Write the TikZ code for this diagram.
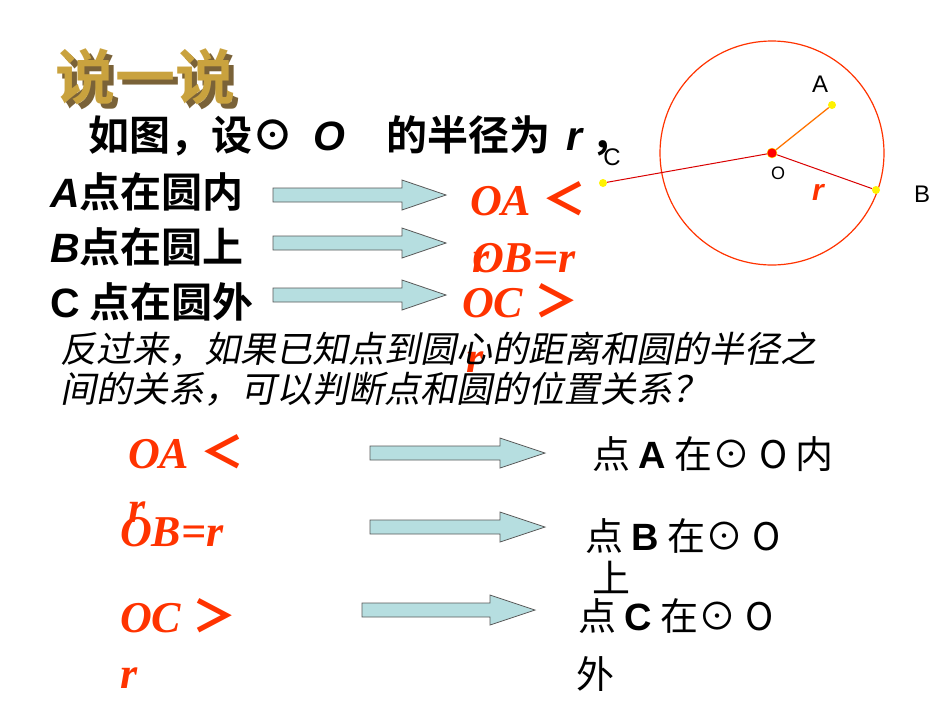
\documentclass[tikz,border=0pt]{standalone}
\usepackage{fontspec}
\setmainfont{Liberation Sans}
\newfontfamily\cjk{Noto Sans CJK SC}[BoldFont={Noto Sans CJK SC Bold}]
\newfontfamily\cjkit{Noto Sans CJK SC}[FakeSlant=0.2]
\newfontfamily\rser{Liberation Serif}
\newfontfamily\lsans{Liberation Sans}
\newcommand\lt{{\cjk ＜}}
\newcommand\gt{{\cjk ＞}}
\newcommand\ilet[1]{{\lsans\bfseries\itshape #1}}
\definecolor{redo}{HTML}{FF3300}
\definecolor{arrfill}{HTML}{B6DEE0}
\definecolor{gold}{HTML}{C9A23E}
\definecolor{goldsh}{HTML}{7A6238}
\begin{document}
\begin{tikzpicture}[x=1pt,y=-1pt,
  txt/.style={anchor=base west,inner sep=0pt,font=\fontsize{41}{41}\selectfont\cjk\bfseries},
  ptxt/.style={anchor=base west,inner sep=0pt,font=\fontsize{38}{38}\selectfont\cjk},
  rtxt/.style={anchor=base west,inner sep=0pt,text=redo,font=\fontsize{44}{44}\selectfont\rser\bfseries\itshape},
  itxt/.style={anchor=base west,inner sep=0pt,font=\fontsize{36}{36}\selectfont\cjkit},
  lbl/.style={inner sep=0pt,font=\fontsize{24}{24}\selectfont},
  dot/.style={circle,fill=yellow,inner sep=0pt,minimum size=8pt},
  barrow/.style={draw=black!65,fill=arrfill,line width=0.8pt}]
\useasboundingbox (0,0) rectangle (950,713);
% heading
\node[anchor=base west,inner sep=0pt,text=goldsh,font=\fontsize{60}{60}\selectfont\cjk\bfseries] (hs) at (60,104) {说一说};
\node[anchor=base west,inner sep=0pt,text=gold,font=\fontsize{60}{60}\selectfont\cjk\bfseries] (h) at (55,99) {说一说};
% top text
\node[txt] (t1) at (88,150) {如图，设⊙\hspace{0.5em}\ilet{O}\hspace{1em}的半径为\hspace{0.4em}\ilet{r}\hspace{0.2em}，};
\node[txt] (t2) at (50,207) {\ilet{A}点在圆内};
\node[txt] (t3) at (50,262) {\ilet{B}点在圆上};
\node[txt] (t4) at (50,317) {{\lsans\bfseries C} 点在圆外};
% block arrows
\newcommand\barr[4]{\draw[barrow] (#1,#4-7) -- (#2,#4-7) -- (#2,#4-15) -- (#3,#4) -- (#2,#4+15) -- (#2,#4+7) -- (#1,#4+7) -- cycle;}
\barr{273}{402}{446}{195}
\barr{273}{402}{446}{243}
\barr{273}{402}{446}{295}
\barr{370}{500}{545}{453}
\barr{370}{500}{545}{527}
\barr{362}{490}{535}{610}
% red relations top
\node[rtxt] (r1) at (470,215) {OA \lt};
\node[rtxt] (r1b) at (472,272) {r};
\node[rtxt] (r2) at (472,272) {OB=r};
\node[rtxt] (r3) at (462,317) {OC \gt};
\node[rtxt] (r3b) at (466,372) {r};
% italic lines
\node[itxt] (i1) at (60,362) {反过来，如果已知点到圆心的距离和圆的半径之};
\node[itxt] (i2) at (60,402) {间的关系，可以判断点和圆的位置关系？};
% lower
\node[rtxt] (l1) at (128,468) {OA \lt};
\node[rtxt] (l1b) at (128,522) {r};
\node[rtxt] (l2) at (120,546) {OB=r};
\node[rtxt] (l3) at (120,632) {OC \gt};
\node[rtxt] (l3b) at (120,688) {r};
\node[ptxt] (p1) at (592,468) {点 {\lsans\bfseries A} 在⊙ O 内};
\node[ptxt] (p2) at (585,550) {点 {\lsans\bfseries B} 在⊙ O};
\node[ptxt] (p2b) at (592,592) {上};
\node[ptxt] (p3) at (578,630) {点 {\lsans\bfseries C} 在⊙ O};
\node[ptxt] (p3b) at (576,688) {外};
% circle figure
\coordinate (O) at (772,153);
\draw[redo,line width=1.2pt] (O) circle[radius=112];
\node[dot] (A) at (832,105) {};
\node[dot] (B) at (876,190) {};
\node[dot] (C) at (603,183) {};
\draw[orange!90!red,line width=1.3pt] (O) -- (A);
\draw[red!85!black,line width=1pt] (O) -- (B);
\draw[red!85!black,line width=1pt] (O) -- (C);
\node[circle,fill=red,draw=yellow,inner sep=0pt,minimum size=10pt] (Oc) at (O) {};
\node[lbl] (la) at (820,84) {A};
\node[lbl] (lb) at (922,194) {B};
\node[lbl] (lc) at (612,157) {C};
\node[lbl,font=\fontsize{18}{18}\selectfont] (lo) at (778,173) {O};
\node[lbl,text=redo,font=\fontsize{30}{30}\selectfont\bfseries\itshape] (lr) at (818,192) {r};
\end{tikzpicture}
\end{document}
